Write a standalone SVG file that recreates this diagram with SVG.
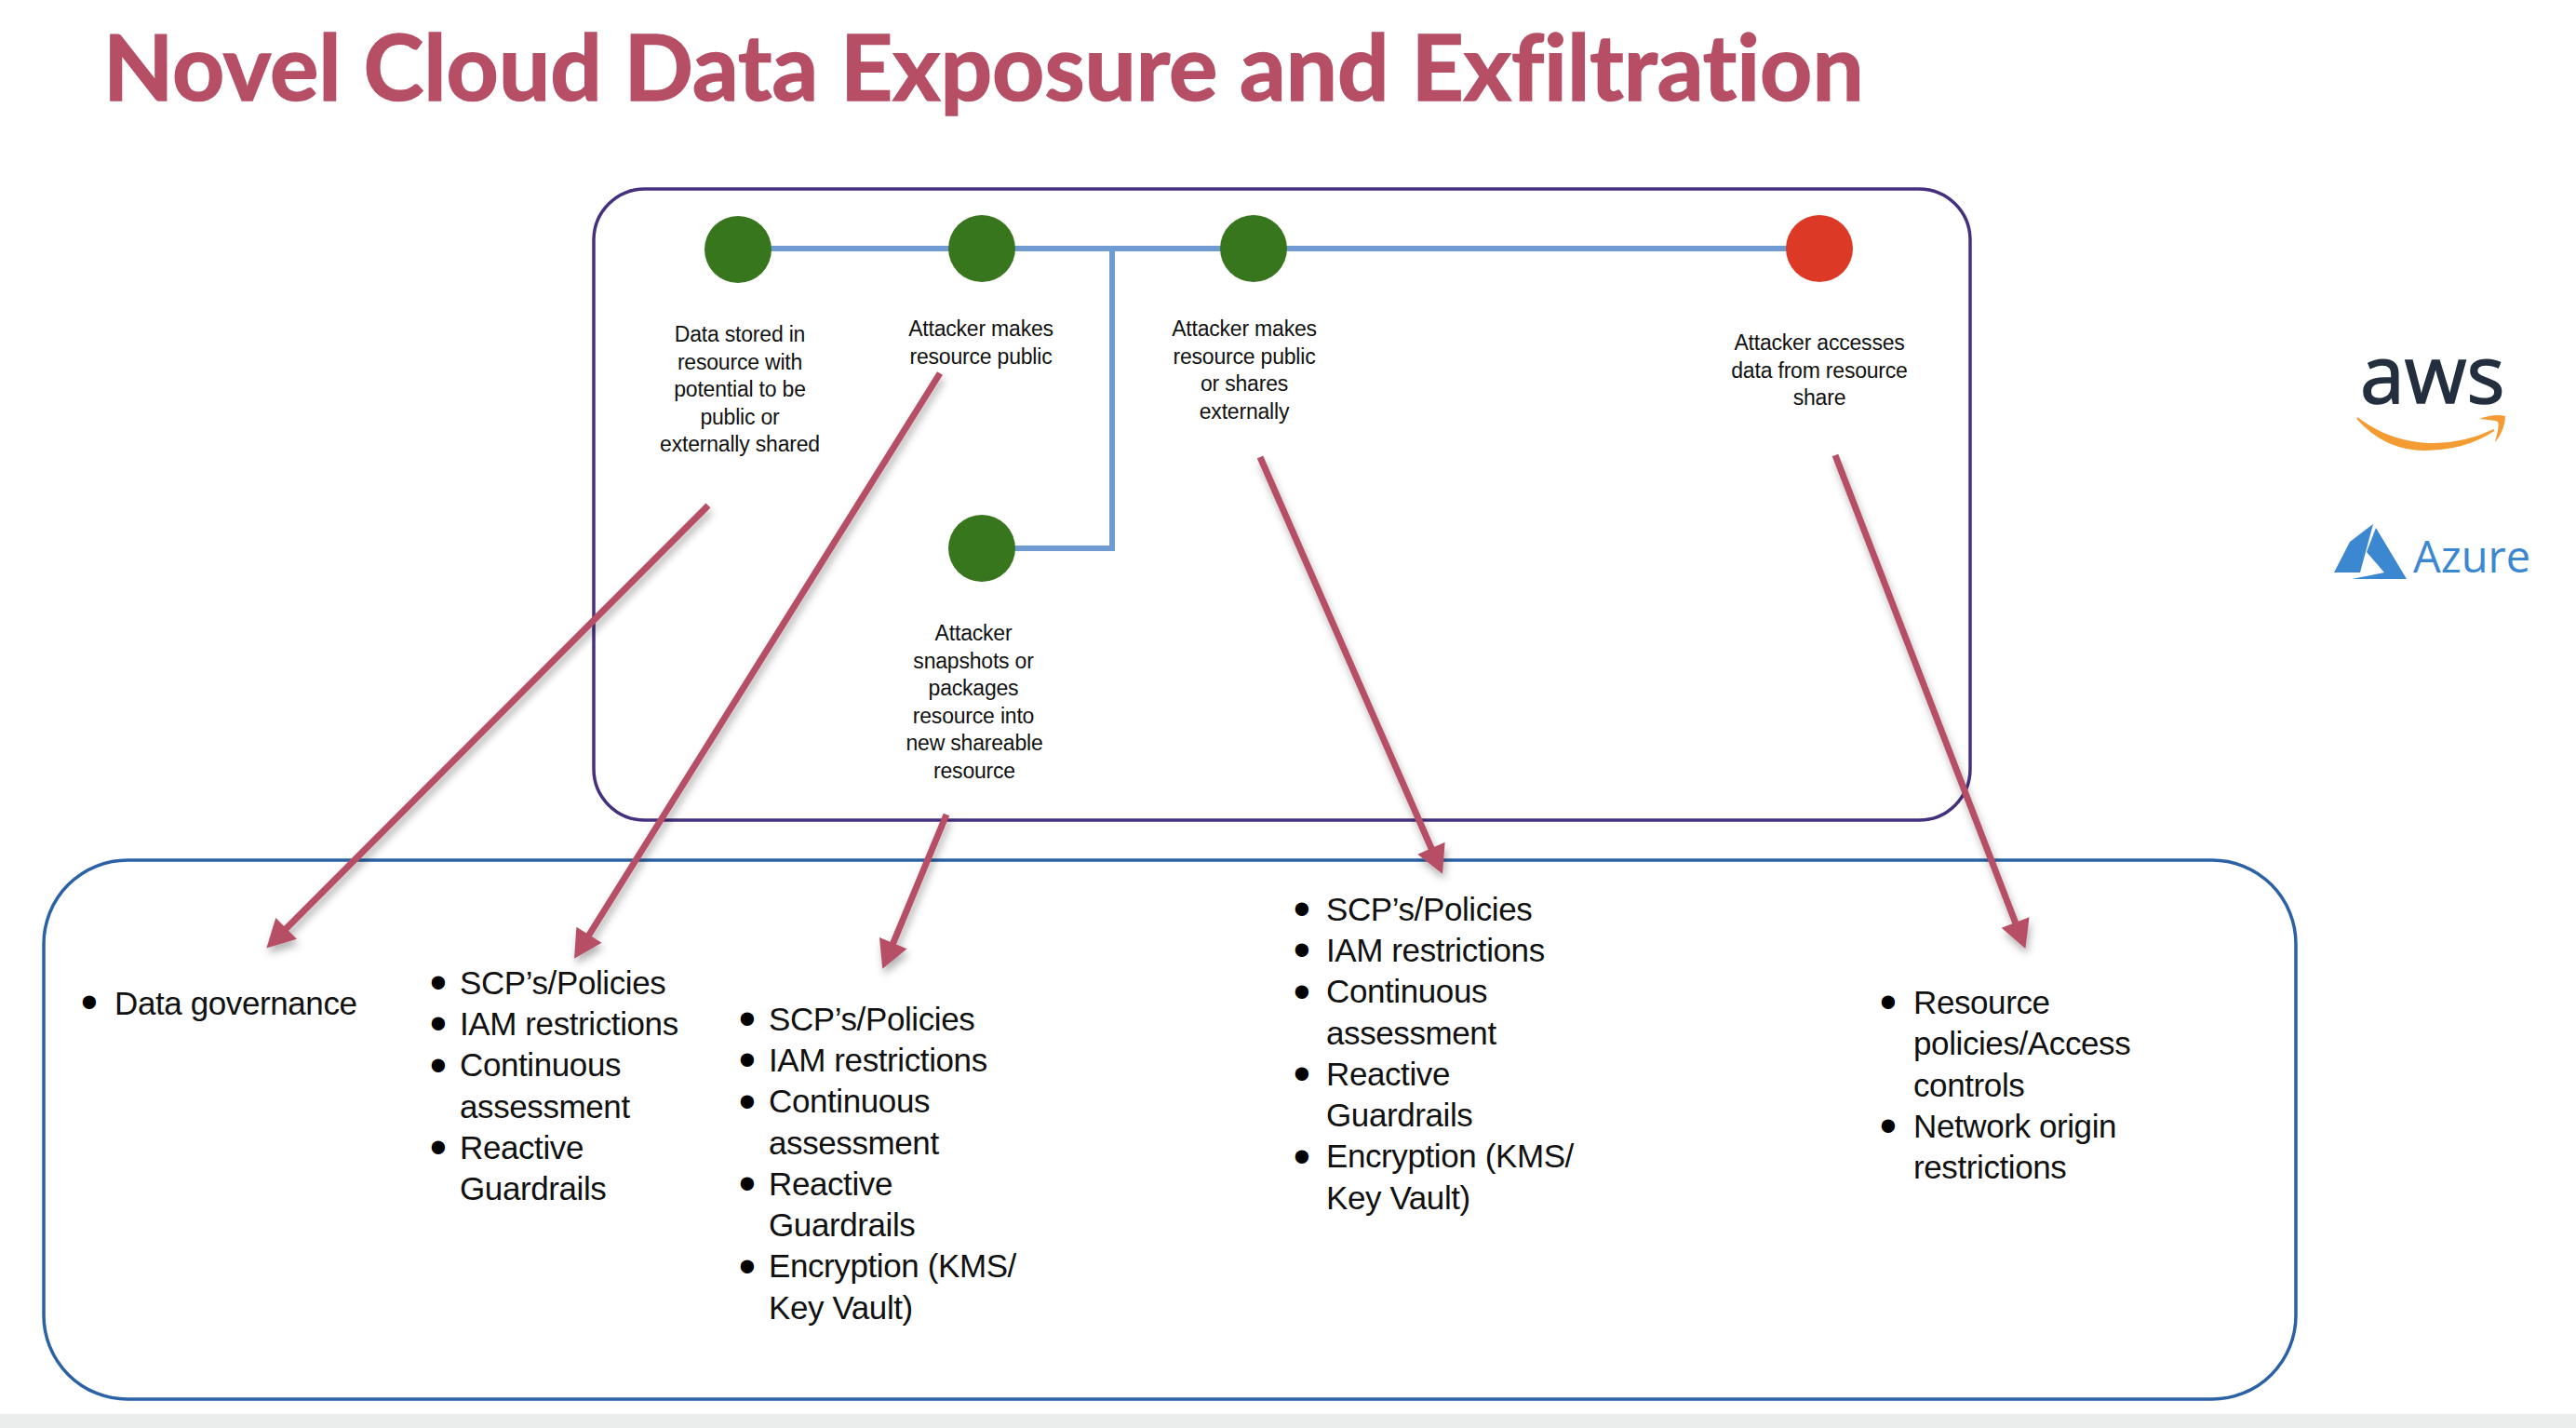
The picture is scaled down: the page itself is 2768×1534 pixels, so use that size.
<svg xmlns="http://www.w3.org/2000/svg" width="2768" height="1534" viewBox="0 0 2768 1534">
<style>
.sm{font:23px "Liberation Sans",Arial,sans-serif;letter-spacing:-.2px;fill:#111;text-anchor:middle}
.li{font:35px "Liberation Sans",Arial,sans-serif;letter-spacing:-.4px;fill:#111;transform:translate(0,.5px)}
.bu{font:38px "Liberation Sans",Arial,sans-serif;fill:#000;stroke:#000;stroke-width:4;text-anchor:middle;transform:translate(0,2px)}
.tl{fill:none;stroke:#6f9bd1;stroke-width:6}
.ar{fill:none;stroke:#b64f66;stroke-width:7;marker-end:url(#ah)}
.g{fill:#38761d}
</style>
<defs>
<marker id="ah" markerUnits="userSpaceOnUse" markerWidth="40" markerHeight="40" viewBox="-2 -20 40 40" refX="15" refY="0" orient="auto"><path d="M0-16L30 0L0 16Z" fill="#b64f66"/></marker>
<filter id="sh" x="-20%" y="-20%" width="140%" height="140%"><feDropShadow dx="2" dy="6" stdDeviation="4" flood-color="#000" flood-opacity=".3"/></filter>
</defs>
<rect width="2768" height="1534" fill="#fff"/>
<rect y="1519" width="2768" height="15" fill="#ebedec"/>
<text id="title" x="111" y="108" font-family="Lato,'Liberation Sans',sans-serif" font-weight="700" font-size="98" fill="#b64f66" stroke="#b64f66" stroke-width="1.5" style="font-variant-ligatures:none">Novel Cloud Data Exposure and Exfiltration</text>
<rect id="attack-box" x="638" y="203" width="1479" height="678" rx="55" fill="none" stroke="#45307f" stroke-width="3.5"/>
<rect id="control-box" x="47" y="924" width="2420" height="579" rx="90" fill="none" stroke="#2a62a5" stroke-width="3.5"/>
<g id="timeline">
<path class="tl" d="M793 267H1955M1195 267V589H1055"/>
</g>
<g id="node-stored"><circle class="g" cx="793" cy="268" r="36"/>
<text class="sm"><tspan x="795" y="367">Data stored in</tspan><tspan x="795" y="396.5">resource with</tspan><tspan x="795" y="426">potential to be</tspan><tspan x="795" y="456">public or</tspan><tspan x="795" y="485">externally shared</tspan></text></g>
<g id="node-public"><circle class="g" cx="1055" cy="267" r="36"/>
<text class="sm"><tspan x="1054" y="361">Attacker makes</tspan><tspan x="1054" y="390.5">resource public</tspan></text></g>
<g id="node-snapshot"><circle class="g" cx="1055" cy="589" r="36"/>
<text class="sm"><tspan x="1046" y="688">Attacker</tspan><tspan x="1046" y="718">snapshots or</tspan><tspan x="1046" y="747">packages</tspan><tspan x="1046" y="777">resource into</tspan><tspan x="1047" y="806">new shareable</tspan><tspan x="1047" y="836">resource</tspan></text></g>
<g id="node-share"><circle class="g" cx="1347" cy="267" r="36"/>
<text class="sm"><tspan x="1337" y="361">Attacker makes</tspan><tspan x="1337" y="390.5">resource public</tspan><tspan x="1337" y="420">or shares</tspan><tspan x="1337" y="450">externally</tspan></text></g>
<g id="node-access"><circle cx="1955" cy="267" r="36" fill="#dc3a26"/>
<text class="sm"><tspan x="1955" y="376">Attacker accesses</tspan><tspan x="1955" y="406">data from resource</tspan><tspan x="1955" y="435">share</tspan></text></g>
<g id="list-1"><text class="bu" x="96" y="1088">•</text><text class="li" x="123" y="1089">Data governance</text></g>
<g id="list-2"><text class="bu"><tspan x="471" y="1067">•</tspan><tspan x="471" y="1111">•</tspan><tspan x="471" y="1155.5">•</tspan><tspan x="471" y="1244">•</tspan></text>
<text class="li"><tspan x="494" y="1067">SCP’s/Policies</tspan><tspan x="494" y="1111">IAM restrictions</tspan><tspan x="494" y="1155.5">Continuous</tspan><tspan x="494" y="1200">assessment</tspan><tspan x="494" y="1244">Reactive</tspan><tspan x="494" y="1288">Guardrails</tspan></text></g>
<g id="list-3"><text class="bu"><tspan x="803" y="1106">•</tspan><tspan x="803" y="1150">•</tspan><tspan x="803" y="1194.5">•</tspan><tspan x="803" y="1283">•</tspan><tspan x="803" y="1371.5">•</tspan></text>
<text class="li"><tspan x="826" y="1106">SCP’s/Policies</tspan><tspan x="826" y="1150">IAM restrictions</tspan><tspan x="826" y="1194.5">Continuous</tspan><tspan x="826" y="1239">assessment</tspan><tspan x="826" y="1283">Reactive</tspan><tspan x="826" y="1327">Guardrails</tspan><tspan x="826" y="1371.5">Encryption (KMS/</tspan><tspan x="826" y="1416">Key Vault)</tspan></text></g>
<g id="list-4"><text class="bu"><tspan x="1399" y="988">•</tspan><tspan x="1399" y="1032">•</tspan><tspan x="1399" y="1076.5">•</tspan><tspan x="1399" y="1165">•</tspan><tspan x="1399" y="1253.5">•</tspan></text>
<text class="li"><tspan x="1425" y="988">SCP’s/Policies</tspan><tspan x="1425" y="1032">IAM restrictions</tspan><tspan x="1425" y="1076.5">Continuous</tspan><tspan x="1425" y="1121">assessment</tspan><tspan x="1425" y="1165">Reactive</tspan><tspan x="1425" y="1209">Guardrails</tspan><tspan x="1425" y="1253.5">Encryption (KMS/</tspan><tspan x="1425" y="1298">Key Vault)</tspan></text></g>
<g id="list-5"><text class="bu"><tspan x="2029" y="1088">•</tspan><tspan x="2029" y="1221">•</tspan></text>
<text class="li"><tspan x="2056" y="1088">Resource</tspan><tspan x="2056" y="1132">policies/Access</tspan><tspan x="2056" y="1177">controls</tspan><tspan x="2056" y="1221">Network origin</tspan><tspan x="2056" y="1265">restrictions</tspan></text></g>
<g id="connectors" filter="url(#sh)">
<path class="ar" d="M761 543L297 1008"/>
<path class="ar" d="M1010 401L625 1017"/>
<path class="ar" d="M1017 875L954 1027"/>
<path class="ar" d="M1354 491L1544 925"/>
<path class="ar" d="M1972 489L2171 1005"/>
</g>
<g id="logo-aws">
<text x="2536" y="433" font-family="'Open Sans',sans-serif" font-size="86" fill="#232f3e" stroke="#232f3e" stroke-width="1.5">aws</text>
<path d="M2533 449C2570 478 2625 488 2680 462C2650 482 2620 483 2605 483C2575 483 2552 471 2533 449Z" fill="#f49c33" stroke="#f49c33" stroke-width="2"/>
<path d="M2664 450C2675 446 2685 445 2692 447C2692 458 2686 470 2681 475C2683 466 2686 458 2684 453C2679 451 2672 451 2664 450Z" fill="#f49c33"/>
</g>
<g id="logo-azure">
<path d="M2550 563L2525 582L2508 615L2536 615Z" fill="#3b87d0"/>
<path d="M2553 567L2543 593L2562 615L2527 622L2586 622Z" fill="#3b87d0"/>
<text x="2593" y="615" font-family="'Open Sans',sans-serif" font-size="47" fill="#3b87d0">Azure</text>
</g>
</svg>
